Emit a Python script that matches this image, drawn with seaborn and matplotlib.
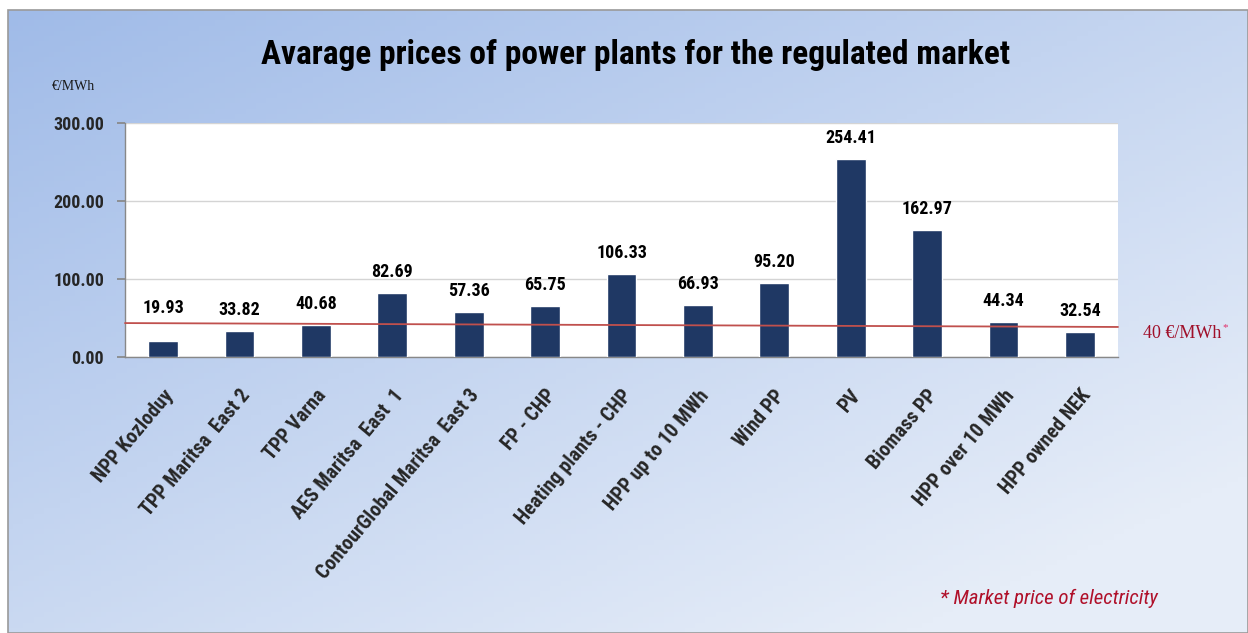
import numpy as np
import pandas as pd
import matplotlib
matplotlib.use("Agg")
import matplotlib.pyplot as plt
from matplotlib.patches import Rectangle
import seaborn as sns

# ---- data ----
categories = ["NPP Kozloduy", "TPP Maritsa  East 2", "TPP Varna", "AES Maritsa  East  1",
              "ContourGlobal Maritsa  East 3", "FP - CHP", "Heating plants - CHP",
              "HPP up to 10 MWh", "Wind PP", "PV", "Biomass PP", "HPP over 10 MWh",
              "HPP owned NEK"]
prices = [19.93, 33.82, 40.68, 82.69, 57.36, 65.75, 106.33, 66.93, 95.20, 254.41,
          162.97, 44.34, 32.54]
market_line = [43.5, 38.5]          # drawn market-price line, left end / right end
y_ticks = [0, 100, 200, 300]
title = "Avarage prices of power plants for the regulated market"

sns.set_theme(style="white")
plt.rcParams["font.family"] = ["Roboto Condensed", "Lato", "DejaVu Sans"]

W, H = 1248, 633
fig = plt.figure(figsize=(W / 100, H / 100), dpi=100)
fig.patch.set_facecolor("white")

# gradient background panel
bg = fig.add_axes([8 / W, 0, 1 - 8 / W, 1 - 10 / H], zorder=-10)
yy, xx = np.mgrid[0:1:120j, 0:1:240j]
t = np.clip(0.55 * xx + 0.6 * yy, 0, 1)[..., None]
c0 = np.array([160, 187, 232]) / 255
c1 = np.array([230, 237, 248]) / 255
bg.imshow(c0 + (c1 - c0) * t, aspect="auto", extent=[0, 1, 0, 1], origin="upper")
bg.set_axis_off()
fig.add_artist(Rectangle((8 / W, 0), 1 - 8 / W, 1 - 10 / H, transform=fig.transFigure,
                         fill=False, edgecolor="#9a9a9a", lw=1.2))

# main axes
ax = fig.add_axes([125 / W, 1 - 357 / H, (1118 - 125) / W, (357 - 123) / H])
ax.set_facecolor("white")
df = pd.DataFrame({"plant": categories, "price": prices})
sns.barplot(data=df, x="plant", y="price", color="#1f3864", saturation=1,
            width=0.39, ax=ax, zorder=3)
ax.set_xlim(-0.5, len(categories) - 0.5)
ax.set_ylim(0, 300)
ax.set_yticks(y_ticks)
ax.set_yticklabels([f"{v:.2f}" for v in y_ticks], fontsize=13, fontweight="bold")
ax.yaxis.grid(True, color="#d4d4d4", lw=1, zorder=0)
ax.set_xlabel("")
ax.set_ylabel("")
ax.set_xticks(range(len(categories)))
ax.set_xticklabels(categories, rotation=50, ha="right", rotation_mode="anchor",
                   fontsize=14.5, fontweight="bold")
ax.set_xticks(np.arange(-0.5, len(categories), 1), minor=True)
ax.tick_params(axis="x", which="major", length=0, pad=21)
ax.tick_params(axis="x", which="minor", length=6, color="#888888", direction="out")
ax.tick_params(axis="y", length=6, color="#888888", direction="out", left=True, pad=9)
for s in ["top", "right"]:
    ax.spines[s].set_visible(False)
for s in ["left", "bottom"]:
    ax.spines[s].set_color("#888888")
    ax.spines[s].set_linewidth(1)

# market price line
ax.plot([-0.5, len(categories) - 0.5], market_line, color="#c0504d", lw=1.3,
        zorder=4, clip_on=False)

# value labels
for i, v in enumerate(prices):
    off = 24 if i == 0 else 12
    ax.annotate(f"{v:.2f}", (i, v), xytext=(0, off * 0.72), textcoords="offset points",
                ha="center", va="bottom", fontsize=13, fontweight="bold", color="black")

# texts
fig.text(636 / W, 1 - 55 / H, title, ha="center", va="center", fontsize=24,
         fontweight="bold", color="black")
fig.text(52 / W, 1 - 86 / H, "€/MWh", ha="left", va="center", fontsize=10,
         family="Liberation Serif", color="#1a1a1a")
fig.text(1143 / W, 1 - 334 / H, "40 €/MWh", ha="left", va="center", fontsize=13,
         family="Liberation Serif", color="#a0102a")
fig.text(1222 / W, 1 - 328 / H, "*", ha="left", va="center", fontsize=8,
         family="Liberation Serif", color="#e0306a")
fig.text(940 / W, 1 - 598 / H, "* Market price of electricity", ha="left", va="center",
         fontsize=15, style="italic", color="#b0102a")

fig.savefig("out.png", dpi=100, facecolor=fig.get_facecolor())
